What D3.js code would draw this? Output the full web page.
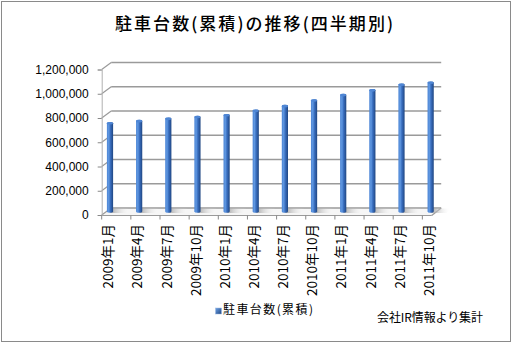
<!DOCTYPE html>
<html><head><meta charset="utf-8">
<script src="https://d3js.org/d3.v7.min.js"></script>
<style>
html,body{margin:0;padding:0;background:#fff;}
svg{display:block;}
</style></head>
<body>
<script>
const categories = ["2009年1月","2009年4月","2009年7月","2009年10月","2010年1月","2010年4月","2010年7月","2010年10月","2011年1月","2011年4月","2011年7月","2011年10月"];
const values = [728000, 745000, 764000, 780000, 794000, 830000, 869000, 916000, 960000, 999000, 1045000, 1062000];
const yTicks = [0, 200000, 400000, 600000, 800000, 1000000, 1200000];
const title = "駐車台数(累積)の推移(四半期別)";
const seriesName = "駐車台数(累積)";
const sourceNote = "会社IR情報より集計";

const W = 514, H = 345;
const svg = d3.select("body").append("svg").attr("width", W).attr("height", H);
const defs = svg.append("defs");

const barGrad = defs.append("linearGradient").attr("id","barGrad").attr("x1","0").attr("x2","1").attr("y1","0").attr("y2","0");
barGrad.append("stop").attr("offset","0").attr("stop-color","#4d86d6");
barGrad.append("stop").attr("offset","0.3").attr("stop-color","#5f97e0");
barGrad.append("stop").attr("offset","0.55").attr("stop-color","#3a6fc0");
barGrad.append("stop").attr("offset","1").attr("stop-color","#1f4682");

const shGrad = defs.append("linearGradient").attr("id","shGrad").attr("x1","0").attr("x2","1").attr("y1","0").attr("y2","0");
shGrad.append("stop").attr("offset","0").attr("stop-color","#9a9a9a").attr("stop-opacity",0.9);
shGrad.append("stop").attr("offset","1").attr("stop-color","#ffffff").attr("stop-opacity",0);

const legGrad = defs.append("linearGradient").attr("id","legGrad").attr("x1","0").attr("x2","1").attr("y1","0").attr("y2","1");
legGrad.append("stop").attr("offset","0").attr("stop-color","#6fa3e6");
legGrad.append("stop").attr("offset","1").attr("stop-color","#1f4682");

// outer border
svg.append("rect").attr("x",1.5).attr("y",1.5).attr("width",509).attr("height",340)
  .attr("fill","#fff").attr("stroke","#8a8a8a").attr("stroke-width",1);

// scales
const step = 29.15;
const x0 = 101.7;
const x = d3.scaleBand().domain(categories).range([x0, x0 + step * categories.length]).padding(0);
const y = d3.scaleLinear().domain([0, 1200000]).range([215, 69.5]);

// 3D offsets
const backDX = 9.5, backDY = -7;
const midDX = 8.3, midDY = -3.5;
const floorRight = 431.7;

const gridColor = "#9a9a9a";

// floor
const floorPts = [[x0, y(0)], [floorRight, y(0)], [floorRight + backDX, y(0) + backDY], [x0 + backDX, y(0) + backDY]];
svg.append("polygon").attr("points", floorPts.map(p => p.join(",")).join(" "))
  .attr("fill","#f6f6f6").attr("stroke","none");

// back wall gridlines
svg.append("g").selectAll("line").data(yTicks).join("line")
  .attr("x1", x0 + backDX).attr("x2", floorRight + backDX)
  .attr("y1", d => y(d) + backDY).attr("y2", d => y(d) + backDY)
  .attr("stroke", gridColor).attr("stroke-width", 1.5);

// side diagonals
svg.append("g").selectAll("line").data(yTicks).join("line")
  .attr("x1", x0).attr("x2", x0 + backDX)
  .attr("y1", d => y(d)).attr("y2", d => y(d) + backDY)
  .attr("stroke", gridColor).attr("stroke-width", 1.2);

// floor edges
svg.append("line").attr("x1", x0).attr("x2", floorRight).attr("y1", y(0) + 0.5).attr("y2", y(0) + 0.5)
  .attr("stroke", gridColor).attr("stroke-width", 1.2);
svg.append("line").attr("x1", floorRight).attr("x2", floorRight + backDX).attr("y1", y(0) + 0.5).attr("y2", y(0) + backDY)
  .attr("stroke", gridColor).attr("stroke-width", 1.2);

// y axis
const yAxis = d3.axisLeft(y).tickValues(yTicks).tickFormat(d3.format(",")).tickSize(4).tickPadding(9);
const yG = svg.append("g").attr("transform", `translate(${x0},0)`).call(yAxis);
yG.select(".domain").attr("stroke", "#b0b0b0").attr("stroke-width", 1);
yG.selectAll(".tick line").attr("stroke", "#888");
yG.selectAll(".tick text").attr("font-family", "'Liberation Sans', Arial, sans-serif").attr("font-size", 12).attr("fill", "#000");

// x ticks
svg.append("g").selectAll("line").data(categories).join("line")
  .attr("x1", d => x(d)).attr("x2", d => x(d))
  .attr("y1", y(0) + 0.5).attr("y2", y(0) + 4.5)
  .attr("stroke", "#888").attr("stroke-width", 1);

// x labels
svg.append("g").selectAll("text").data(categories).join("text")
  .attr("transform", d => `translate(${x(d) + 5.5},224) rotate(-90)`)
  .attr("text-anchor", "end").attr("dominant-baseline", "central")
  .attr("font-family", "'Noto Sans CJK JP', sans-serif").attr("font-size", 13.5).attr("fill", "#000")
  .text(d => d);

// shadows
svg.append("g").selectAll("polygon").data(values).join("polygon")
  .attr("points", (d, i) => {
    const cx = x(categories[i]) + midDX;
    const by = y(0) + midDY;
    return [[cx, by + 1.5], [cx + 16, by + 1.5], [cx + 20, by - 3], [cx + 3, by - 3]].map(p => p.join(",")).join(" ");
  })
  .attr("fill", "url(#shGrad)");

// bars (cylinders)
const bw = 6.2;
const bars = svg.append("g").selectAll("g").data(values).join("g");
bars.append("path")
  .attr("d", (d, i) => {
    const cx = x(categories[i]) + midDX;
    const top = y(d) + midDY;
    const bot = y(0) + midDY;
    const rx = bw / 2, ry = 1.3;
    return `M${cx - rx},${top} L${cx - rx},${bot} A${rx},${ry} 0 0 0 ${cx + rx},${bot} L${cx + rx},${top} A${rx},${ry} 0 0 0 ${cx - rx},${top} Z`;
  })
  .attr("fill", "url(#barGrad)");
bars.append("ellipse")
  .attr("cx", (d, i) => x(categories[i]) + midDX)
  .attr("cy", d => y(d) + midDY)
  .attr("rx", bw / 2).attr("ry", 1.3)
  .attr("fill", "#4f86d4");

// title
svg.append("text").attr("x", 115).attr("y", 30)
  .attr("textLength", 278).attr("lengthAdjust", "spacing")
  .attr("font-family", "'Noto Sans CJK JP', sans-serif").attr("font-size", 17).attr("font-weight", 500).attr("fill", "#000")
  .text(title);

// legend
svg.append("rect").attr("x", 215.5).attr("y", 308).attr("width", 6).attr("height", 6)
  .attr("fill", "url(#legGrad)").attr("stroke", "#9bb7e0").attr("stroke-width", 0.5);
svg.append("text").attr("x", 223).attr("y", 313.5)
  .attr("textLength", 90).attr("lengthAdjust", "spacing")
  .attr("font-family", "'Noto Sans CJK JP', sans-serif").attr("font-size", 12).attr("fill", "#000")
  .text(seriesName);

// source note
svg.append("text").attr("x", 377).attr("y", 322)
  .attr("textLength", 106).attr("lengthAdjust", "spacing")
  .attr("font-family", "'Noto Sans CJK JP', sans-serif").attr("font-size", 12).attr("fill", "#000")
  .text(sourceNote);
</script>
</body></html>
